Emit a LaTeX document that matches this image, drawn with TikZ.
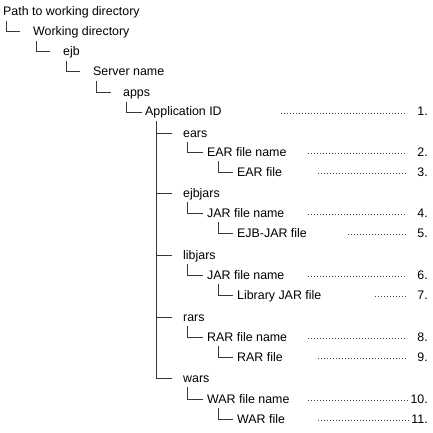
\documentclass[tikz,border=0pt]{standalone}
\usepackage{fontspec}
\setmainfont{Liberation Sans}
\begin{document}
\begin{tikzpicture}[x=1pt,y=-1pt,
  lbl/.style={anchor=base west, inner sep=0pt, font=\fontsize{12.4}{14}\selectfont, text=black},
  num/.style={anchor=base east, inner sep=0pt, font=\fontsize{12.4}{14}\selectfont, text=black},
  tree/.style={draw=black!78, line width=1pt},
  leader/.style={draw=black!75, line width=1pt, dash pattern=on 1pt off 2pt}]
\useasboundingbox (0,0) rectangle (432,433);

% labels
\node[lbl] (p)    at (3,16)   {Path to working directory};
\node[lbl] (w)    at (33,36)  {Working directory};
\node[lbl] (ejb)  at (63,56)  {ejb};
\node[lbl] (srv)  at (93,76)  {Server name};
\node[lbl] (apps) at (123,97) {apps};
\node[lbl] (app)  at (145,116) {Application ID};
\node[lbl] (ears) at (183,137) {ears};
\node[lbl] (earn) at (207,156) {EAR file name};
\node[lbl] (earf) at (237,176) {EAR file};
\node[lbl] (ejbj) at (183,197) {ejbjars};
\node[lbl] (jarn) at (207,217) {JAR file name};
\node[lbl] (ejbf) at (237,237) {EJB-JAR file};
\node[lbl] (libj) at (183,259) {libjars};
\node[lbl] (ljarn) at (207,279) {JAR file name};
\node[lbl] (libf) at (237,299) {Library JAR file};
\node[lbl] (rars) at (183,321) {rars};
\node[lbl] (rarn) at (207,341) {RAR file name};
\node[lbl] (rarf) at (237,361) {RAR file};
\node[lbl] (wars) at (183,382) {wars};
\node[lbl] (warn) at (207,403) {WAR file name};
\node[lbl] (warf) at (237,423) {WAR file};

% numbers
\node[num] (n1)  at (428,116) {1.};
\node[num] (n2)  at (428,156) {2.};
\node[num] (n3)  at (428,176) {3.};
\node[num] (n4)  at (428,217) {4.};
\node[num] (n5)  at (428,237) {5.};
\node[num] (n6)  at (428,279) {6.};
\node[num] (n7)  at (428,299) {7.};
\node[num] (n8)  at (428,341) {8.};
\node[num] (n9)  at (428,361) {9.};
\node[num] (n10) at (428,403) {10.};
\node[num] (n11) at (428,423) {11.};

% tree connectors
\draw[tree] ([shift={(3,5)}]p.base west)    |- ([shift={(-13,-4)}]w.base west);
\draw[tree] ([shift={(3,5)}]w.base west)    |- ([shift={(-13,-4)}]ejb.base west);
\draw[tree] ([shift={(3,5)}]ejb.base west)  |- ([shift={(-13,-4)}]srv.base west);
\draw[tree] ([shift={(3,5)}]srv.base west)  |- ([shift={(-12,-4)}]apps.base west);
\draw[tree] ([shift={(3,5)}]apps.base west) |- ([shift={(-3,-4)}]app.base west);
\foreach \c in {ears,ejbj,libj,rars,wars}
  \draw[tree] ([shift={(11,5)}]app.base west) |- ([shift={(-11,-4)}]\c.base west);
\draw[tree] ([shift={(4,5)}]ears.base west)  |- ([shift={(-4,-4)}]earn.base west);
\draw[tree] ([shift={(11,5)}]earn.base west) |- ([shift={(-4,-4)}]earf.base west);
\draw[tree] ([shift={(4,5)}]ejbj.base west)  |- ([shift={(-4,-4)}]jarn.base west);
\draw[tree] ([shift={(11,5)}]jarn.base west) |- ([shift={(-4,-4)}]ejbf.base west);
\draw[tree] ([shift={(4,5)}]libj.base west)  |- ([shift={(-4,-4)}]ljarn.base west);
\draw[tree] ([shift={(11,5)}]ljarn.base west) |- ([shift={(-4,-4)}]libf.base west);
\draw[tree] ([shift={(4,5)}]rars.base west)  |- ([shift={(-4,-4)}]rarn.base west);
\draw[tree] ([shift={(11,5)}]rarn.base west) |- ([shift={(-4,-4)}]rarf.base west);
\draw[tree] ([shift={(4,5)}]wars.base west)  |- ([shift={(-4,-4)}]warn.base west);
\draw[tree] ([shift={(11,5)}]warn.base west) |- ([shift={(-4,-4)}]warf.base west);

% leader start points
\coordinate (d1)  at (281,113);
\coordinate (d2)  at (308,153);
\coordinate (d3)  at (318,173);
\coordinate (d4)  at (308,214);
\coordinate (d5)  at (348,234);
\coordinate (d6)  at (308,276);
\coordinate (d7)  at (375,296);
\coordinate (d8)  at (308,338);
\coordinate (d9)  at (318,358);
\coordinate (d10) at (308,400);
\coordinate (d11) at (318,420);

\draw[leader] (d1) -- ([shift={(-12,-3)}]n1.base west);
\draw[leader] (d2) -- ([shift={(-12,-3)}]n2.base west);
\draw[leader] (d3) -- ([shift={(-12,-3)}]n3.base west);
\draw[leader] (d4) -- ([shift={(-12,-3)}]n4.base west);
\draw[leader] (d5) -- ([shift={(-12,-3)}]n5.base west);
\draw[leader] (d6) -- ([shift={(-12,-3)}]n6.base west);
\draw[leader] (d7) -- ([shift={(-12,-3)}]n7.base west);
\draw[leader] (d8) -- ([shift={(-12,-3)}]n8.base west);
\draw[leader] (d9) -- ([shift={(-12,-3)}]n9.base west);
\draw[leader] (d10) -- ([shift={(-1,-3)}]n10.base west);
\draw[leader] (d11) -- ([shift={(-1,-3)}]n11.base west);
\end{tikzpicture}
\end{document}
